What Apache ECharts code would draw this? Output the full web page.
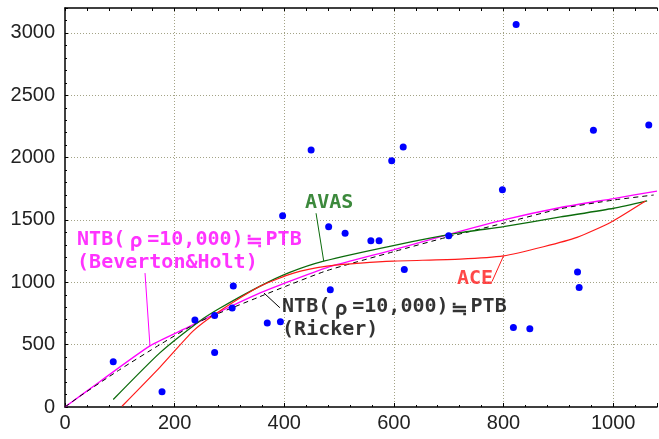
<!DOCTYPE html>
<html><head><meta charset="utf-8">
<script src="https://cdn.jsdelivr.net/npm/echarts@6/dist/echarts.min.js"></script>
<style>html,body{margin:0;padding:0;background:#fff}#c{width:659px;height:439px}</style>
</head><body><div id="c"></div>
<script>
// ---- data ----
const xTickLabels = [0, 200, 400, 600, 800, 1000];
const yTickLabels = [0, 500, 1000, 1500, 2000, 2500, 3000];

const observed = [[88,362],[177,122],[237,698],[273,734],[273,438],[307,970],[305,794],[369,674],[393,684],
  [481,1446],[484,940],[397,1534],[449,2062],[596,1974],[617,2086],[823,3068],[798,1742],[964,2220],[1065,2262],
  [511,1394],[558,1334],[573,1334],[700,1374],[619,1102],[935,1082],[938,958],[818,638],[848,628]];

const bevertonHolt = [[0,0],[64,205],[155,490],[222,634],[283,766],[356,915],[393,980],[478,1118],[599,1260],
  [697,1380],[800,1500],[904,1600],[1001,1672],[1080,1732]];
const ricker = [[0,0],[27,86],[100,300],[173,500],[246,686],[356,886],[405,972],[478,1094],[599,1245],
  [697,1362],[800,1474],[904,1590],[1001,1660],[1074,1700]];
const avas = [[88,60],[173,434],[246,690],[283,794],[356,970],[410,1080],[472,1170],[599,1295],[721,1398],[800,1446],
  [904,1524],[1001,1594],[1062,1654]];
const ace = [[104,6],[173,318],[234,610],[277,754],[356,968],[417,1074],[478,1130],[539,1154],[599,1170],
  [721,1186],[800,1212],[873,1285],[934,1360],[995,1480],[1059,1652]];

// annotation texts, anchors (data coords) and leader lines
const bhText = 'NTB({w|ρ}=10,000){w|≒}PTB\n(Beverton&Holt)';
const bhAnchor = [22, 1436];
const bhLeader = [[146,1074],[155,490]];
const avasText = 'AVAS';
const avasAnchor = [438, 1728];
const avasLeader = [[458,1554],[472,1170]];
const rkText = 'NTB({w|ρ}=10,000){w|≒}PTB\n(Ricker)';
const rkAnchor = [396, 892];
const rkLeader = [[363,914],[392,796]];
const aceText = 'ACE';
const aceAnchor = [715, 1120];
const aceLeader = [[779,1006],[800,1212]];

const AXIS_FONT = "'Liberation Sans',sans-serif";
const ANN_FONT = "'DejaVu Sans Mono','Liberation Mono',monospace";

function textSeries(anchor, text, color) {
  return {
    type: 'scatter', data: [anchor], symbolSize: 0, silent: true, z: 5,
    label: { show: true, position: 'inside', formatter: text, align: 'left', verticalAlign: 'top',
      color: color, fontFamily: ANN_FONT, fontWeight: 'bold', fontSize: 20, lineHeight: 23,
      rich: { w: { width: 22, align: 'center', color: color, fontFamily: "'Noto Sans CJK JP',sans-serif",
        fontWeight: 'bold', fontSize: 20, lineHeight: 23 } } }
  };
}
function leaderSeries(pts, color) {
  return { type: 'line', data: pts, symbol: 'none', silent: true, z: 3,
    lineStyle: { color: color, width: 1 } };
}
function curve(data, color, width, type) {
  return { type: 'line', data: data, symbol: 'none', smooth: 0.2, z: 2,
    lineStyle: { color: color, width: width, type: type || 'solid' } };
}

const chart = echarts.init(document.getElementById('c'));
chart.setOption({
  backgroundColor: '#fff',
  animation: false,
  grid: { left: 65, right: 2, top: 8, bottom: 32 },
  xAxis: [{
    type: 'value', min: 0, max: 1080, interval: 200, position: 'bottom',
    axisLine: { show: true, lineStyle: { color: '#000', width: 1.5 } },
    axisTick: { show: true, inside: true, length: 4, lineStyle: { color: '#000' } },
    minorTick: { show: true, splitNumber: 5, length: 2, lineStyle: { color: '#000' } },
    splitLine: { show: true, showMinLine: false, showMaxLine: false, lineStyle: { type: [1, 2], color: '#a3a386' } },
    axisLabel: { showMaxLabel: false, margin: 6, fontFamily: AXIS_FONT, fontSize: 20, color: '#222',
      formatter: v => xTickLabels.includes(v) ? String(v) : '' }
  }, {
    type: 'value', min: 0, max: 1080, interval: 200, position: 'top',
    axisLine: { show: true, lineStyle: { color: '#000', width: 1.5 } },
    axisTick: { show: true, inside: true, length: 3, lineStyle: { color: '#000' } },
    minorTick: { show: true, splitNumber: 5, length: 3, lineStyle: { color: '#000' } },
    splitLine: { show: false }, axisLabel: { show: false }
  }],
  yAxis: {
    type: 'value', min: 0, max: 3200, interval: 500,
    axisLine: { show: true, lineStyle: { color: '#000', width: 1.5 } },
    axisTick: { show: true, inside: true, length: 3, lineStyle: { color: '#000' } },
    minorTick: { show: true, splitNumber: 5, length: 2, lineStyle: { color: '#000' } },
    splitLine: { show: true, showMinLine: false, showMaxLine: false, lineStyle: { type: [1, 2], color: '#a3a386' } },
    axisLabel: { showMaxLabel: false, margin: 10, fontFamily: AXIS_FONT, fontSize: 20, color: '#222',
      formatter: v => yTickLabels.includes(v) ? String(v) : '' }
  },
  series: [
    curve(bevertonHolt, '#ff00ff', 1.3),
    curve(ricker, '#000000', 1, [5, 4]),
    curve(avas, '#0b6b0b', 1.3),
    curve(ace, '#ff1a1a', 1.2),
    leaderSeries(bhLeader, '#ff00ff'),
    leaderSeries(avasLeader, '#0b6b0b'),
    leaderSeries(rkLeader, '#000000'),
    leaderSeries(aceLeader, '#ff1a1a'),
    textSeries(bhAnchor, bhText, '#ff00ff'),
    textSeries(avasAnchor, avasText, '#0b6b0b'),
    textSeries(rkAnchor, rkText, '#000000'),
    textSeries(aceAnchor, aceText, '#ff1a1a'),
    { type: 'scatter', data: observed, symbolSize: 7, z: 6, itemStyle: { color: '#0000ff', opacity: 1 } }
  ]
});
</script></body></html>
